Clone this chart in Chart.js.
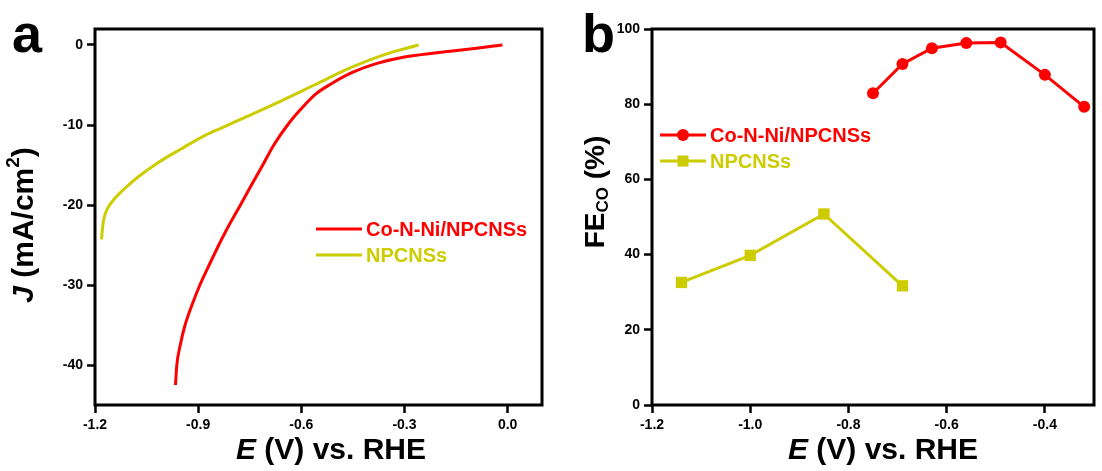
<!DOCTYPE html>
<html>
<head>
<meta charset="utf-8">
<script src="https://cdn.jsdelivr.net/npm/chart.js@4/dist/chart.umd.min.js"></script>
<style>
  html, body { margin: 0; padding: 0; background: #fff; overflow: hidden; }
  #wrap { position: relative; width: 1102px; height: 471px; }
  #wrap canvas { position: absolute; left: 0; top: 0; }
</style>
</head>
<body>
<div id="wrap">
  <canvas id="lsv" width="1102" height="471"></canvas>
  <canvas id="fe" width="1102" height="471"></canvas>
</div>
<script>
// ---- data: (a) LSV curves ----
const seriesNames = ['Co-N-Ni/NPCNSs', 'NPCNSs'];

const lsvCoNiE = [-0.966, -0.962, -0.952, -0.938, -0.918, -0.895, -0.868, -0.840, -0.810, -0.777, -0.745, -0.712, -0.680, -0.640, -0.603, -0.560, -0.515, -0.450, -0.380, -0.300, -0.200, -0.090, -0.015];
const lsvCoNiJ = [-42.5, -40.0, -37.5, -35.0, -32.5, -30.0, -27.5, -25.0, -22.5, -20.0, -17.5, -15.0, -12.5, -10.0, -8.1, -6.2, -4.9, -3.4, -2.3, -1.5, -0.95, -0.4, 0];

const lsvNpE = [-1.181, -1.178, -1.173, -1.163, -1.145, -1.115, -1.075, -1.020, -0.950, -0.880, -0.828, -0.767, -0.664, -0.562, -0.460, -0.358, -0.259];
const lsvNpJ = [-24.3, -22.8, -21.5, -20.4, -19.3, -18.0, -16.5, -14.8, -13.0, -11.3, -10.3, -9.1, -7.1, -5.0, -2.9, -1.2, 0];

const lsvETicks = [-1.2, -0.9, -0.6, -0.3, 0.0];
const lsvJTicks = [-40, -30, -20, -10, 0];

// ---- data: (b) Faradaic efficiency of CO ----
const feCoNiE = [-0.75, -0.69, -0.63, -0.56, -0.49, -0.40, -0.32];
const feCoNi  = [82.9, 90.7, 94.9, 96.3, 96.4, 87.8, 79.3];
const feNpE   = [-1.14, -1.00, -0.85, -0.69];
const feNp    = [32.6, 39.8, 50.8, 31.7];

const feETicks = [-1.2, -1.0, -0.8, -0.6, -0.4];
const feTicks  = [0, 20, 40, 60, 80, 100];

const RED = '#ff0000';
const YEL = '#cccc00';
const FONT = "'Liberation Sans', Arial, sans-serif";

const pts = (xs, ys) => xs.map((x, i) => ({ x, y: ys[i] }));

// draw a run of text pieces (italic / superscript / subscript), centred at (cx, cy)
function drawRich(ctx, parts, cx, cy, size, rotate) {
  ctx.save();
  ctx.translate(cx, cy);
  if (rotate) ctx.rotate(-Math.PI / 2);
  const fontOf = p => {
    const s = (p.sup || p.sub) ? Math.round(size * 0.62) : size;
    return (p.italic ? 'italic ' : '') + 'bold ' + s + 'px ' + FONT;
  };
  let total = 0;
  parts.forEach(p => { ctx.font = fontOf(p); p.w = ctx.measureText(p.t).width; total += p.w; });
  let x = -total / 2;
  ctx.fillStyle = '#000';
  ctx.textBaseline = 'middle';
  ctx.textAlign = 'left';
  parts.forEach(p => {
    ctx.font = fontOf(p);
    let dy = 0;
    if (p.sup) dy = -size * 0.38;
    if (p.sub) dy = size * 0.25;
    ctx.fillText(p.t, x, dy);
    x += p.w;
  });
  ctx.restore();
}

// frame, axis titles, panel letter and legend
const decor = {
  id: 'decor',
  beforeDatasetsDraw(chart, args, o) {
    const a = chart.chartArea, ctx = chart.ctx;
    ctx.save();
    ctx.strokeStyle = '#000';
    ctx.lineWidth = 3;
    ctx.strokeRect(a.left, a.top, a.right - a.left, a.bottom - a.top);
    ctx.restore();
  },
  afterDraw(chart, args, o) {
    const ctx = chart.ctx;
    // panel letter
    ctx.save();
    ctx.fillStyle = '#000';
    ctx.font = 'bold 54px ' + FONT;
    ctx.textBaseline = 'alphabetic';
    ctx.fillText(o.letter, o.letterX, o.letterY);
    ctx.restore();
    // axis titles
    drawRich(ctx, o.xTitle, o.xTitleX, o.xTitleY, 30, false);
    drawRich(ctx, o.yTitle, o.yTitleX, o.yTitleY, o.yTitleSize, true);
    // legend
    chart.data.datasets.forEach((ds, i) => {
      const y = o.legendY + i * o.legendGap;
      ctx.save();
      ctx.strokeStyle = ds.borderColor;
      ctx.lineWidth = 3;
      ctx.beginPath();
      ctx.moveTo(o.legendX, y);
      ctx.lineTo(o.legendX + o.legendLen, y);
      ctx.stroke();
      if (o.markers) {
        const mx = o.legendX + o.legendLen / 2;
        ctx.fillStyle = ds.backgroundColor;
        if (ds.pointStyle === 'rect') {
          ctx.fillRect(mx - 5.5, y - 5.5, 11, 11);
        } else {
          ctx.beginPath();
          ctx.arc(mx, y, 6, 0, Math.PI * 2);
          ctx.fill();
        }
      }
      ctx.fillStyle = ds.borderColor;
      ctx.font = 'bold 20px ' + FONT;
      ctx.textBaseline = 'middle';
      ctx.fillText(ds.label, o.legendX + o.legendLen + 4, y + 1);
      ctx.restore();
    });
  }
};

function axis(min, max, tickVals, fmt, fitFn) {
  return {
    type: 'linear',
    min, max,
    afterBuildTicks: s => { s.ticks = tickVals.map(v => ({ value: v })); },
    afterFit: fitFn,
    ticks: {
      callback: fmt,
      color: '#000',
      font: { family: FONT, size: 14, weight: 'bold' },
      padding: 4,
      maxRotation: 0,
      autoSkip: false
    },
    grid: {
      drawOnChartArea: false,
      drawTicks: true,
      tickLength: 8,
      tickWidth: 2.5,
      tickColor: '#000',
      color: '#000'
    },
    border: { display: false }
  };
}

const baseOpts = {
  responsive: false,
  animation: false,
  events: [],
  plugins: { legend: { display: false }, tooltip: { enabled: false } }
};

// (a) current density vs potential
new Chart(document.getElementById('lsv'), {
  type: 'scatter',
  data: {
    datasets: [
      { label: seriesNames[0], data: pts(lsvCoNiE, lsvCoNiJ), borderColor: RED, backgroundColor: RED },
      { label: seriesNames[1], data: pts(lsvNpE, lsvNpJ), borderColor: YEL, backgroundColor: YEL }
    ].map(d => Object.assign(d, { showLine: true, pointRadius: 0, borderWidth: 3, cubicInterpolationMode: 'monotone' }))
  },
  options: Object.assign({}, baseOpts, {
    layout: { padding: { left: 0, top: 29, right: 560, bottom: 0 } },
    scales: {
      x: axis(-1.2, 0.1, lsvETicks, v => v.toFixed(1), s => { s.height = 66; }),
      y: axis(-45, 2, lsvJTicks, v => String(v), s => { s.width = 95; })
    },
    plugins: Object.assign({}, baseOpts.plugins, {
      decor: {
        letter: 'a', letterX: 12, letterY: 52,
        xTitle: [{ t: 'E', italic: true }, { t: ' (V) vs. RHE' }], xTitleX: 331, xTitleY: 451,
        yTitle: [{ t: 'J', italic: true }, { t: ' (mA/cm' }, { t: '2', sup: true }, { t: ')' }], yTitleX: 25, yTitleY: 225, yTitleSize: 30,
        legendX: 316, legendY: 229, legendGap: 26, legendLen: 46, markers: false
      }
    })
  }),
  plugins: [decor]
});

// (b) Faradaic efficiency of CO vs potential
new Chart(document.getElementById('fe'), {
  type: 'line',
  data: {
    datasets: [
      { label: seriesNames[0], data: pts(feCoNiE, feCoNi), borderColor: RED, backgroundColor: RED, pointStyle: 'circle', pointRadius: 6 },
      { label: seriesNames[1], data: pts(feNpE, feNp), borderColor: YEL, backgroundColor: YEL, pointStyle: 'rect', pointRadius: 8 }
    ].map(d => Object.assign(d, { borderWidth: 3, tension: 0, pointBorderWidth: 0, clip: false }))
  },
  options: Object.assign({}, baseOpts, {
    layout: { padding: { left: 0, top: 29, right: 2, bottom: 0 } },
    scales: {
      x: axis(-1.2, -0.3, feETicks, v => v.toFixed(1), s => { s.height = 66; }),
      y: axis(0, 100, feTicks, v => String(v), s => { s.width = 652; })
    },
    plugins: Object.assign({}, baseOpts.plugins, {
      decor: {
        letter: 'b', letterX: 582, letterY: 52,
        xTitle: [{ t: 'E', italic: true }, { t: ' (V) vs. RHE' }], xTitleX: 883, xTitleY: 451,
        yTitle: [{ t: 'FE' }, { t: 'CO', sub: true }, { t: ' (%)' }], yTitleX: 596, yTitleY: 192, yTitleSize: 28,
        legendX: 660, legendY: 135, legendGap: 26, legendLen: 46, markers: true
      }
    })
  }),
  plugins: [decor]
});
</script>
</body>
</html>
